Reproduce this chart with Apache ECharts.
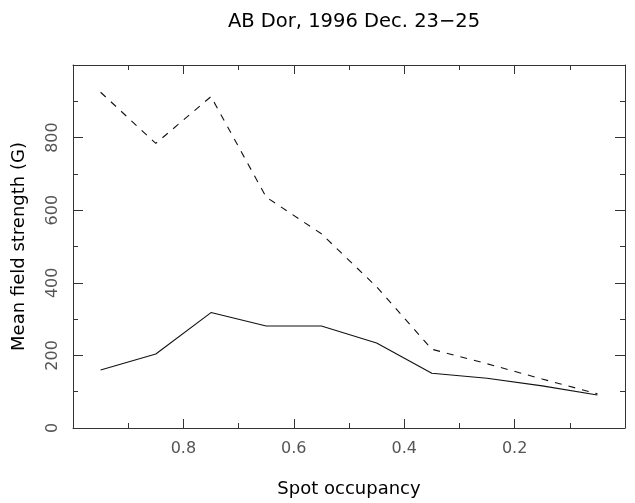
<!DOCTYPE html>
<html>
<head>
<meta charset="utf-8">
<script src="https://cdn.jsdelivr.net/npm/echarts@6/dist/echarts.min.js"></script>
<style>html,body{margin:0;padding:0;background:#fff;}#c{width:635px;height:503px;}</style>
</head>
<body>
<div id="c"></div>
<script>
var titleText = 'AB Dor, 1996 Dec. 23\u221225';
var xName = 'Spot occupancy';
var yName = 'Mean field strength (G)';
var occupancy = [0.95, 0.85, 0.75, 0.65, 0.55, 0.45, 0.35, 0.25, 0.15, 0.05];
var fieldDashed = [925, 784, 913, 636, 535, 389, 217, 177, 135, 94];
var fieldSolid = [160, 204, 318, 281, 281, 234, 151, 137, 116, 91];

var chart = echarts.init(document.getElementById('c'), null, {renderer: 'canvas'});
var axisCol = '#333';
var labCol = '#555';
var font = 'DejaVu Sans';

function xAx(show, pos) {
  return {
    type: 'value', position: pos, min: 0, max: 1, interval: 0.2, inverse: true,
    axisLine: {show: true, onZero: false, lineStyle: {color: axisCol, width: 1}},
    axisTick: {show: true, inside: true, length: 9, lineStyle: {color: axisCol}},
    minorTick: {show: true, splitNumber: 2, length: 5, lineStyle: {color: axisCol}},
    splitLine: {show: false}, minorSplitLine: {show: false},
    axisLabel: {show: show, showMinLabel: false, showMaxLabel: false, margin: 13,
      color: labCol, fontFamily: font, fontSize: 16,
      formatter: function (v) { return v.toFixed(1); }},
    name: show ? xName : '', nameLocation: 'middle', nameGap: 52,
    nameTextStyle: {color: '#000', fontFamily: font, fontSize: 18}
  };
}
function yAx(show, pos) {
  return {
    type: 'value', position: pos, min: 0, max: 1000, interval: 200,
    axisLine: {show: true, onZero: false, lineStyle: {color: axisCol, width: 1}},
    axisTick: {show: true, inside: true, length: 10, lineStyle: {color: axisCol}},
    minorTick: {show: true, splitNumber: 2, length: 5, lineStyle: {color: axisCol}},
    splitLine: {show: false}, minorSplitLine: {show: false},
    axisLabel: {show: show, showMaxLabel: false, rotate: 90, margin: 12,
      color: labCol, fontFamily: font, fontSize: 16},
    name: show ? yName : '', nameLocation: 'middle', nameGap: 45,
    nameTextStyle: {color: '#000', fontFamily: font, fontSize: 18}
  };
}

chart.setOption({
  animation: false,
  backgroundColor: '#fff',
  title: {text: titleText, left: 349, top: 7, textAlign: 'center',
    textStyle: {color: '#000', fontFamily: font, fontSize: 19.5, fontWeight: 'normal'}},
  grid: {left: 73, right: 10, top: 65, bottom: 70, containLabel: false},
  xAxis: [xAx(true, 'bottom'), xAx(false, 'top')],
  yAxis: [yAx(true, 'left'), yAx(false, 'right')],
  series: [
    {type: 'line', xAxisIndex: 0, yAxisIndex: 0, showSymbol: false, symbol: 'none',
     data: occupancy.map(function (x, i) { return [x, fieldDashed[i]]; }),
     lineStyle: {color: '#111', width: 1.1, type: [7, 7]}},
    {type: 'line', xAxisIndex: 0, yAxisIndex: 0, showSymbol: false, symbol: 'none',
     data: occupancy.map(function (x, i) { return [x, fieldSolid[i]]; }),
     lineStyle: {color: '#111', width: 1.1, type: 'solid'}}
  ]
});
</script>
</body>
</html>
